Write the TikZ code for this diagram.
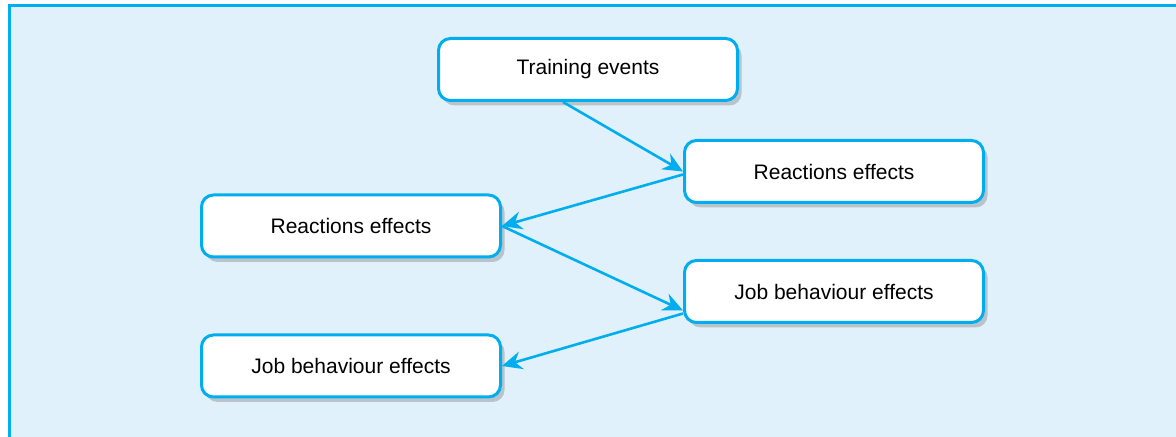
\documentclass[tikz,border=0pt]{standalone}
\usepackage{fontspec}
\setmainfont{Liberation Sans}
\usetikzlibrary{arrows.meta}
\usetikzlibrary{positioning}
\usetikzlibrary{shadows}
\definecolor{linkblue}{RGB}{0,174,239}
\definecolor{paleblue}{RGB}{224,241,251}

\begin{document}
\begin{tikzpicture}[x=0.5pt,y=-0.5pt,->,>={Stealth[length=10pt,width=9pt]},
  line width=1.3pt,
  stage/.style={rectangle,rounded corners=6pt,draw=linkblue,line width=1.5pt,fill=white,
    minimum width=149.5pt,minimum height=31pt,font=\fontsize{10.5}{12}\selectfont,
    drop shadow={opacity=0.4,shadow xshift=2pt,shadow yshift=-2.5pt}}]

  \useasboundingbox (0,0) rectangle (1176,437);
  \fill[paleblue] (8,5) rectangle (1176,437);
  \draw[-,linkblue,line width=1.5pt] (9,437) -- (9,6) -- (1176,6);

  \node[stage] (train) at (588,69.5) {Training events};
  \node[stage] (react2) [below=18.5pt of train, xshift=123pt] {Reactions effects};
  \node[stage] (react1) [left=90.5pt of react2, yshift=-27.25pt] {Reactions effects};
  \node[stage] (job2) [below=27.5pt of react2] {Job behaviour effects};
  \node[stage] (job1) [below=37.5pt of react1] {Job behaviour effects};

  \draw[linkblue] ([xshift=-12.5pt]train.south) -- (react2.west);
  \draw[linkblue] ([yshift=-1.5pt]react2.west) -- (react1.east);
  \draw[linkblue] (react1.east) -- ([yshift=-9.5pt]job2.west);
  \draw[linkblue] ([yshift=-11pt]job2.west) -- (job1.east);

\end{tikzpicture}
\end{document}
